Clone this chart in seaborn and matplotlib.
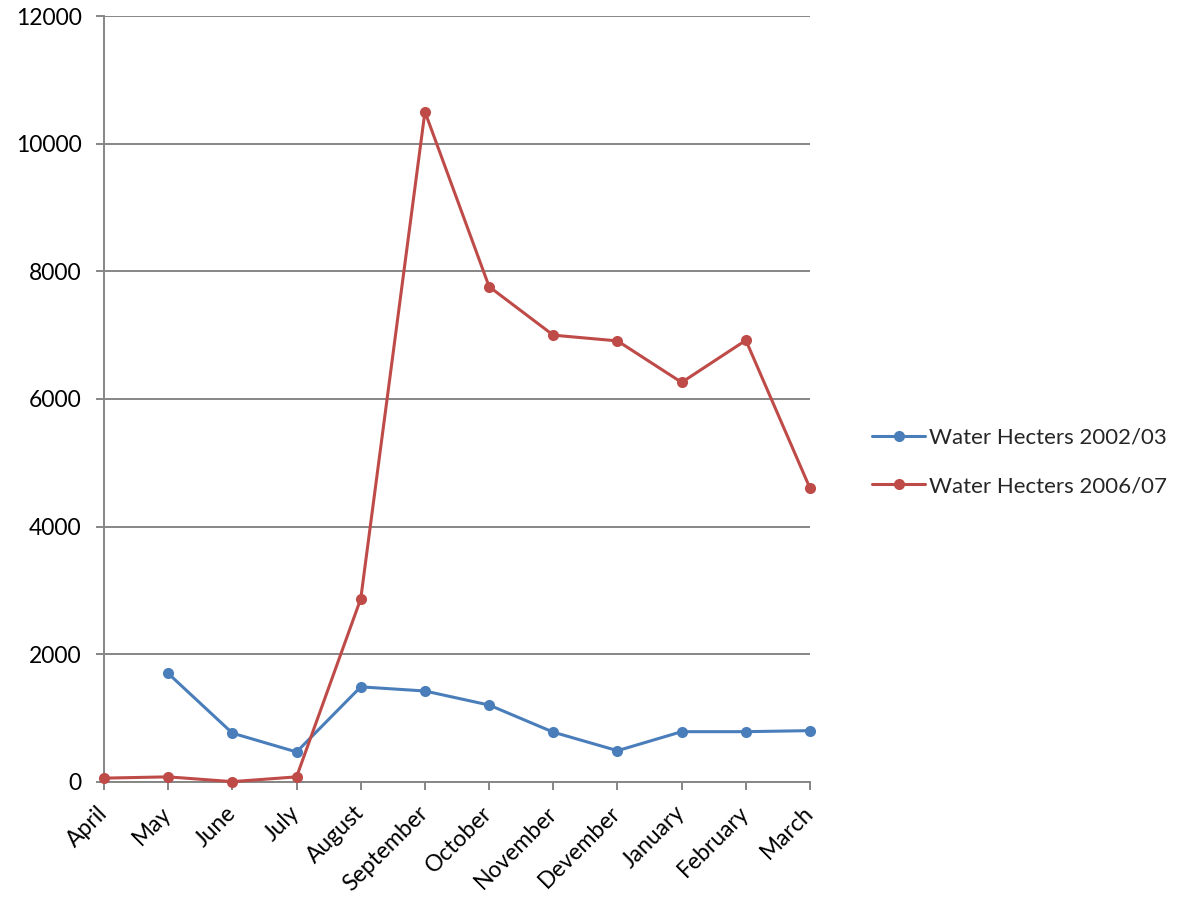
import matplotlib
matplotlib.use("Agg")
import matplotlib.pyplot as plt
import seaborn as sns
import pandas as pd
import numpy as np

months = ["April", "May", "June", "July", "August", "September", "October",
          "November", "Devember", "January", "February", "March"]
hecters_2002_03 = [np.nan, 1700, 765, 470, 1490, 1425, 1205, 780, 490, 788, 788, 804]
hecters_2006_07 = [60, 80, 5, 80, 2870, 10500, 7760, 7000, 6910, 6260, 6920, 4600]
series_names = ["Water Hecters 2002/03", "Water Hecters 2006/07"]
y_ticks = [0, 2000, 4000, 6000, 8000, 10000, 12000]

df = pd.DataFrame({
    "Month": months * 2,
    "Hecters": hecters_2002_03 + hecters_2006_07,
    "Series": [series_names[0]] * len(months) + [series_names[1]] * len(months),
})

sns.set_theme(style="white")
plt.rcParams["font.family"] = ["Lato", "DejaVu Sans"]

fig = plt.figure(figsize=(11.86, 9.10), dpi=100)
ax = fig.add_axes([0.0877, 0.1407, 0.5953, 0.8417])

palette = {series_names[0]: "#4A7EBB", series_names[1]: "#BE4B48"}
sns.lineplot(data=df, x="Month", y="Hecters", hue="Series", palette=palette,
             marker="o", markersize=8, markeredgewidth=0, linewidth=2.2,
             sort=False, ax=ax, clip_on=False, zorder=3)

ax.set_xlim(0, len(months) - 1)
ax.set_ylim(0, 12000)
ax.set_yticks(y_ticks)
ax.set_yticklabels([str(v) for v in y_ticks], fontsize=16.5)
ax.set_xticks(range(len(months)))
ax.set_xticklabels(months, fontsize=16.5, rotation=45, ha="right",
                   va="center", rotation_mode="anchor")
ax.set_xlabel("")
ax.set_ylabel("")

grid_color = "#868686"
ax.yaxis.grid(True, color=grid_color, linewidth=1.4)
ax.xaxis.grid(False)
ax.set_axisbelow(True)
for side in ["top", "right"]:
    ax.spines[side].set_visible(False)
for side in ["left", "bottom"]:
    ax.spines[side].set_color(grid_color)
    ax.spines[side].set_linewidth(1.4)
ax.tick_params(axis="y", direction="out", length=6, width=1.4, color=grid_color,
               left=True, pad=10, labelcolor="black")
ax.tick_params(axis="x", direction="out", length=6, width=1.4, color=grid_color,
               bottom=True, pad=14, labelcolor="black")

leg = ax.legend(loc="center left", bbox_to_anchor=(1.06, 0.418), frameon=False,
                fontsize=16, handlelength=2.35, handletextpad=0.2, labelspacing=1.3)
for line in leg.get_lines():
    line.set_linewidth(2.2)
    line.set_markersize(8)

fig.savefig("out.png", dpi=100)
